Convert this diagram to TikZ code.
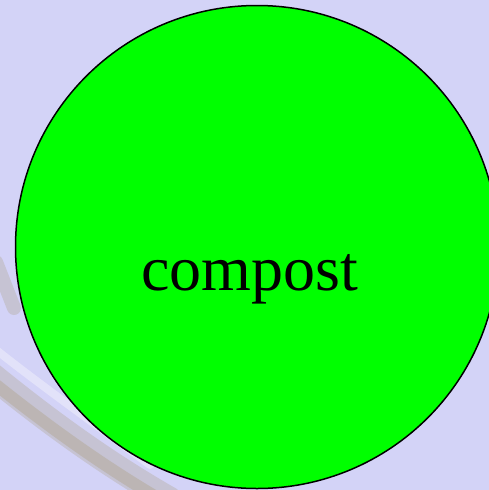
\documentclass[tikz,border=0pt]{standalone}
\usepackage{fontspec}
\setmainfont{Liberation Serif}
\usepackage{tikz}
\usetikzlibrary{positioning}
\usepackage{xcolor}
\definecolor{lavender}{HTML}{D3D3F7}
\definecolor{heap}{HTML}{00FF00}
\definecolor{smudge}{HTML}{B0A690}

\begin{document}
\begin{tikzpicture}[x=1pt, y=-1pt,
    pile/.style={circle, draw=black, line width=1.5pt, fill=heap,
                 minimum size=483pt, inner sep=0pt},
    word/.style={font=\fontsize{64}{70}\selectfont, inner sep=0pt}]
  % page and background
  \useasboundingbox (0,0) rectangle (489,490);
  \clip (0,0) rectangle (489,490);
  \fill[lavender] (0,0) rectangle (489,490);
  % faint smudge behind the circle
  \draw[smudge, line width=26pt, opacity=0.35, line cap=round]
    (-15,370) .. controls (40,415) and (100,460) .. (170,500);
  \draw[smudge, line width=12pt, opacity=0.45, line cap=round]
    (-10,380) .. controls (40,420) and (100,465) .. (170,505);
  \draw[white, line width=8pt, opacity=0.35, line cap=round]
    (-10,345) .. controls (40,385) and (90,420) .. (150,465);
  \draw[smudge, line width=14pt, opacity=0.35, line cap=round]
    (-4,262) -- (14,308);
  % the circle and its text
  \node[pile] (heapnode) at (257,247) {};
  \node[word, anchor=base] (heaptext) at (249.5,290) {compost};
\end{tikzpicture}
\end{document}
